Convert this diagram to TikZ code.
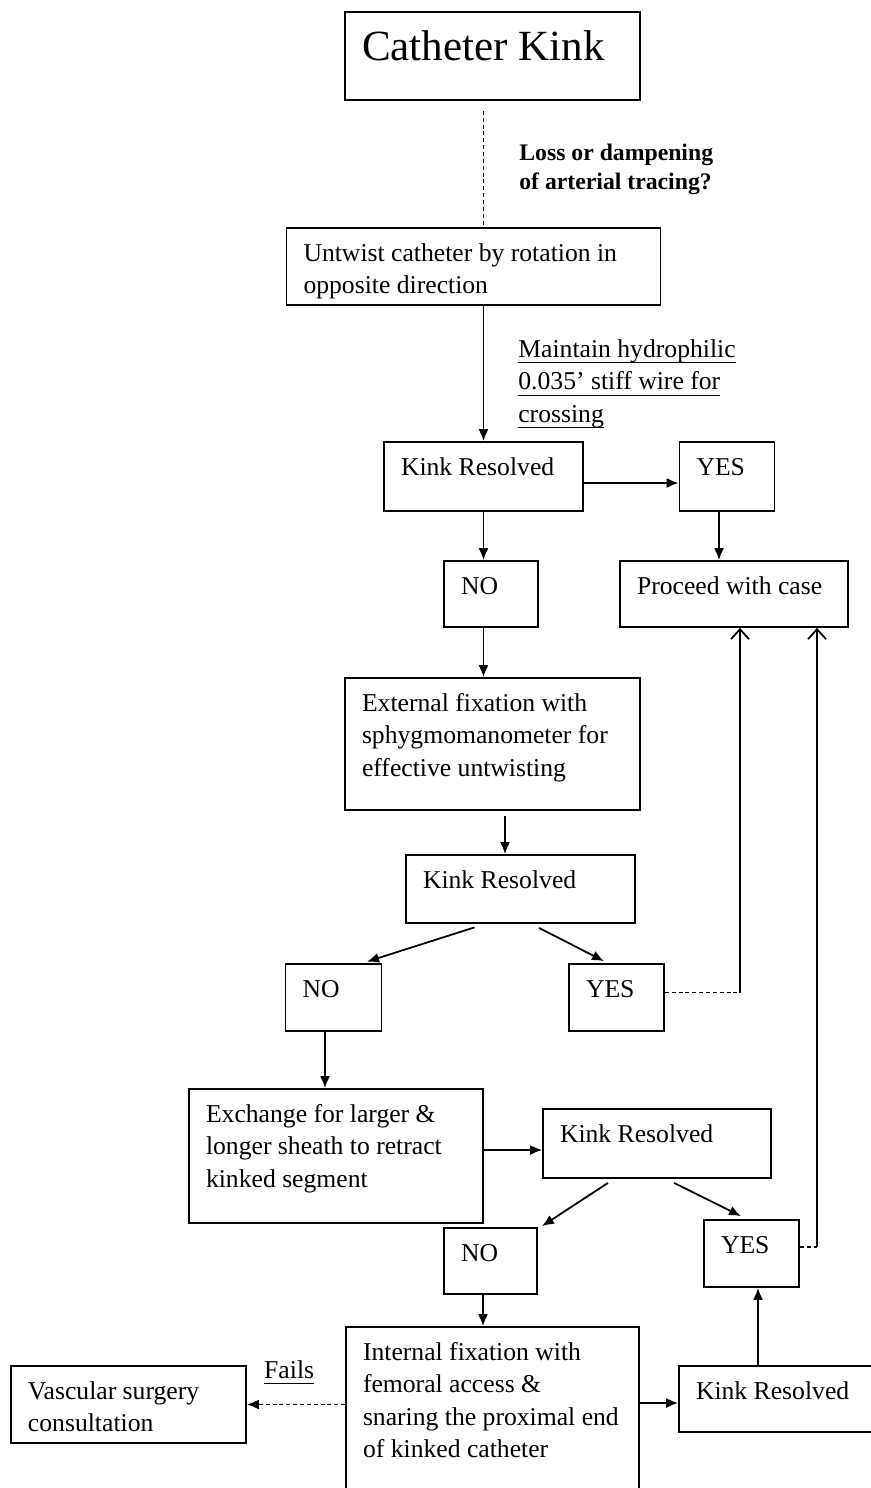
\documentclass[tikz,border=0pt]{standalone}
\usepackage{fontspec}
\setmainfont{Liberation Serif}
\usepackage{tikz}
\usetikzlibrary{arrows.meta,positioning,calc}
\newcommand{\boxfont}{\fontsize{14.6}{18.5}\selectfont}
\newcommand{\lossfont}{\fontsize{13.5}{17}\selectfont\bfseries}
\newcommand{\kinkfont}{\fontsize{24.5}{29}\selectfont}
\newsavebox{\undlbox}
\newcommand{\undl}[1]{\leavevmode\sbox{\undlbox}{#1}\rlap{\rule[-1.25mm]{\wd\undlbox}{0.7pt}}\usebox{\undlbox}}
\tikzset{box/.style={draw, rectangle, line width=1pt, align=flush left, font=\boxfont, inner xsep=0.34cm, inner ysep=0pt, text height=0.66cm}}
\tikzset{note/.style={align=flush left, inner sep=0pt, text width=5.5cm, anchor=base west}}
\tikzset{flow/.style={->, line width=1pt}}
\tikzset{dashline/.style={line width=1pt, dash pattern=on 2.3pt off 1.6pt}}
\tikzset{barb/.style={line width=1pt, -{Straight Barb[length=0.2cm,width=0.36cm]}}}

\begin{document}
\begin{tikzpicture}[>={Latex[length=0.24cm,width=0.2cm]}, on grid]
	\useasboundingbox (0,0) rectangle (17.42,-29.76);
	\clip (0,0) rectangle (17.42,-29.76);
	\node[box, font=\kinkfont, text width=5.22cm, text height=0.96cm, text depth=0.8cm] (CK) at (9.85,-1.12) {Catheter Kink};
	\node[box, text width=6.8cm, text depth=0.88cm] (UT) [below left = 4.21cm and 0.38cm of CK] {Untwist catheter by rotation in\\opposite direction};
	\node[box, text width=3.3cm, text depth=0.72cm] (KR1) [below right = 4.2cm and 0.2cm of UT] {Kink Resolved};
	\node[box, text width=1.22cm, text depth=0.72cm] (Y1) [right = 4.87cm of KR1] {YES};
	\node[box, text width=1.2cm, text depth=0.66cm] (N1) [below right = 2.35cm and 0.15cm of KR1] {NO};
	\node[box, text width=3.88cm, text depth=0.66cm] (PC) [below right = 2.35cm and 0.14cm of Y1] {Proceed with case};
	\node[box, text width=5.22cm, text depth=1.98cm] (EF) [below right = 3cm and 0.03cm of N1] {External fixation with\\sphygmomanometer for\\effective untwisting};
	\node[box, text width=3.9cm, text depth=0.7cm] (KR2) [below right = 2.9cm and 0.56cm of EF] {Kink Resolved};
	\node[box, text width=1.24cm, text depth=0.68cm] (N2) [below left = 2.17cm and 3.74cm of KR2] {NO};
	\node[box, text width=1.22cm, text depth=0.68cm] (Y2) [below right = 2.17cm and 1.92cm of KR2] {YES};
	\node[box, text width=5.2cm, text depth=2.02cm] (EX) [below right = 3.17cm and 0.05cm of N2] {Exchange for larger \&\\longer sheath to retract\\kinked segment};
	\node[box, text width=3.88cm, text depth=0.72cm] (KR3) [above right = 0.25cm and 6.42cm of EX] {Kink Resolved};
	\node[box, text width=1.18cm, text depth=0.66cm] (N3) [below left = 2.35cm and 3.33cm of KR3] {NO};
	\node[box, text width=1.22cm, text depth=0.68cm] (Y3) [below right = 2.2cm and 1.89cm of KR3] {YES};
	\node[box, text width=5.18cm, text depth=3.6cm] (IF) [below right = 3.45cm and 0.04cm of N3] {Internal fixation with\\femoral access \&\\snaring the proximal end\\of kinked catheter};
	\node[box, text width=4.02cm, text depth=0.88cm] (VS) [above left = 0.58cm and 7.28cm of IF] {Vascular surgery\\consultation};
	\node[box, text width=3.52cm, text depth=0.66cm] (KR4) [above right = 0.69cm and 5.83cm of IF] {Kink Resolved};
	
	\node[note, font=\lossfont] (LD) at (10.38,-3.2) {Loss or dampening\\of arterial tracing?};
	\node[note, font=\boxfont] (HW) at (10.36,-7.14) {\undl{Maintain hydrophilic}\\\undl{0.035’ stiff wire for}\\\undl{crossing}};
	\node[note, font=\boxfont] (FL) at ($(VS.east)+(0.34,0.53)$) {\undl{Fails}};
	
	\draw[dashline] ([yshift=-0.2cm]CK.south -| KR1.north) -- (UT.north -| KR1.north);
	\draw[flow] (UT.south -| KR1.north) -- (KR1.north);
	\draw[flow] ([yshift=-0.13cm]KR1.east) -- ([yshift=-0.13cm]KR1.east -| Y1.west);
	\draw[flow] ([xshift=-0.16cm]Y1.south) -- ([xshift=-0.16cm]Y1.south |- PC.north);
	\draw[flow] (KR1.south) -- (KR1.south |- N1.north);
	\draw[flow] (N1.south -| KR1.south) -- (EF.north -| KR1.south);
	\draw[flow] ([xshift=-0.31cm, yshift=-0.1cm]KR2.north |- EF.south) -- ([xshift=-0.31cm]KR2.north);
	\draw[flow] ($(KR2.south)+(-0.92,-0.07)$) -- ($(N2.north)+(0.67,0.03)$);
	\draw[flow] ($(KR2.south)+(0.37,-0.08)$) -- ($(Y2.north)+(-0.25,0.04)$);
	\draw[flow] ([xshift=-0.17cm]N2.south) -- ([xshift=-0.17cm]N2.south |- EX.north);
	\draw[flow] ([yshift=0.12cm]EX.east) -- ([yshift=0.12cm]EX.east -| KR3.west);
	\draw[flow] ($(KR3.south)+(-0.98,-0.08)$) -- ($(N3.north)+(1.03,0.02)$);
	\draw[flow] ($(KR3.south)+(0.34,-0.08)$) -- ($(Y3.north)+(-0.21,0.06)$);
	\draw[flow] ([xshift=-0.15cm]N3.south) -- ([xshift=-0.15cm]N3.south |- IF.north);
	\draw[flow] ([yshift=-0.08cm]KR4.west -| IF.east) -- ([yshift=-0.08cm]KR4.west);
	\draw[flow] ([xshift=0.13cm]Y3.south |- KR4.north) -- ([xshift=0.13cm]Y3.south);
	\draw[dashline, ->] (IF.west |- VS.east) -- (VS.east);
	
	% back to proceed with case
	\coordinate (R2) at ([xshift=0.12cm]PC.south);
	\coordinate (R3) at ([xshift=1.66cm]PC.south);
	\draw[dashline] ([yshift=0.1cm]Y2.east) -- ([yshift=0.1cm]Y2.east -| R2);
	\draw[barb] ([yshift=0.1cm]Y2.east -| R2) -- (R2);
	\draw[dashline] ([yshift=0.13cm]Y3.east) -- ([yshift=0.13cm]Y3.east -| R3);
	\draw[barb] ([yshift=0.13cm]Y3.east -| R3) -- (R3);
\end{tikzpicture}
\end{document}
